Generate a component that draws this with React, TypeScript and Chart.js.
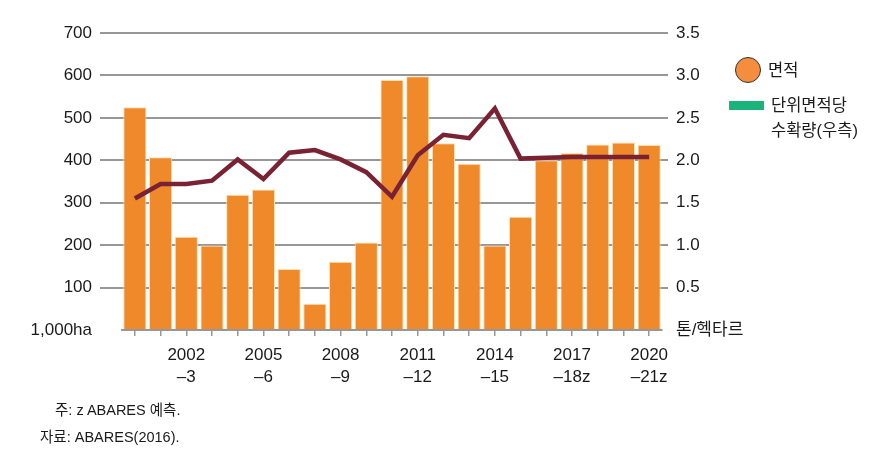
import React, { useEffect, useRef } from "react";
import { Chart, registerables } from "chart.js";

Chart.register(...registerables);

const categories = [
  "2000–01", "2001–02", "2002–03", "2003–04", "2004–05", "2005–06", "2006–07",
  "2007–08", "2008–09", "2009–10", "2010–11", "2011–12", "2012–13", "2013–14",
  "2014–15", "2015–16", "2016–17", "2017–18z", "2018–19z", "2019–20z", "2020–21z",
];
const areaValues = [525, 407, 220, 199, 319, 331, 144, 62, 161, 206, 589, 598, 440, 392, 199, 267, 400, 417, 437, 442, 436];
const yieldValues = [1.55, 1.72, 1.72, 1.76, 2.01, 1.78, 2.09, 2.12, 2.01, 1.86, 1.57, 2.06, 2.3, 2.26, 2.61, 2.02, 2.03, 2.04, 2.04, 2.04, 2.04];
const xTickIndex = [2, 5, 8, 11, 14, 17, 20];
const xTickTop = ["2002", "2005", "2008", "2011", "2014", "2017", "2020"];
const xTickBottom = ["–3", "–6", "–9", "–12", "–15", "–18z", "–21z"];
const leftUnit = "1,000ha";
const rightUnit = "톤/헥타르";
const legendArea = "면적";
const legendYield1 = "단위면적당";
const legendYield2 = "수확량(우측)";
const note1 = "주: z ABARES 예측.";
const note2 = "자료: ABARES(2016).";

const FONT = "'Liberation Sans', 'Noto Sans CJK KR', sans-serif";
const GRID = "#979797";

export default function App() {
  const ref = useRef<HTMLCanvasElement>(null);

  useEffect(() => {
    if (!ref.current) return;
    const chart = new Chart(ref.current, {
      data: {
        labels: categories,
        datasets: [
          {
            type: "line",
            label: "yield",
            data: yieldValues,
            yAxisID: "y1",
            borderColor: "#7a2133",
            borderWidth: 4.5,
            pointRadius: 0,
            tension: 0,
            order: 0,
          },
          {
            type: "bar",
            label: "area",
            data: areaValues,
            yAxisID: "y",
            backgroundColor: "#f0892a",
            borderColor: "#fde0b0",
            borderWidth: 1,
            categoryPercentage: 1,
            barPercentage: 0.9,
            order: 1,
          },
        ],
      },
      options: {
        responsive: false,
        animation: false,
        layout: { padding: { top: 33, left: 0, right: 112, bottom: 0 } },
        plugins: { legend: { display: false }, tooltip: { enabled: false } },
        scales: {
          x: {
            type: "category",
            afterFit: (s: any) => { s.height = 139; },
            grid: {
              display: true,
              drawOnChartArea: false,
              offset: false,
              tickLength: 6,
              color: GRID,
              lineWidth: 1.5,
            },
            border: { display: true, color: GRID, width: 2 },
            ticks: {
              autoSkip: false,
              maxRotation: 0,
              minRotation: 0,
              padding: 8,
              color: "#1a1a1a",
              font: { family: FONT, size: 17, lineHeight: 1.3 },
              callback: (_v: any, i: number) => {
                const k = xTickIndex.indexOf(i);
                return k >= 0 ? [xTickTop[k], xTickBottom[k]] : "";
              },
            },
          },
          y: {
            position: "left",
            min: 0,
            max: 700,
            afterFit: (s: any) => { s.width = 122; },
            border: { display: false },
            grid: {
              color: (c: any) => (c.tick && c.tick.value === 0 ? "rgba(0,0,0,0)" : GRID),
              lineWidth: 2,
              tickLength: 22,
            },
            ticks: {
              stepSize: 100,
              padding: 8,
              color: "#1a1a1a",
              font: { family: FONT, size: 17 },
              callback: (v: any) => (v === 0 ? leftUnit : String(v)),
            },
          },
          y1: {
            position: "right",
            min: 0,
            max: 3.5,
            afterFit: (s: any) => { s.width = 100; },
            border: { display: false },
            grid: {
              drawOnChartArea: false,
              color: (c: any) => (c.tick && c.tick.value === 0 ? "rgba(0,0,0,0)" : GRID),
              lineWidth: 2,
              tickLength: 6,
            },
            ticks: {
              stepSize: 0.5,
              padding: 8,
              color: "#1a1a1a",
              font: { family: FONT, size: 17 },
              callback: (v: any) => (v === 0 ? rightUnit : Number(v).toFixed(1)),
            },
          },
        },
      },
    } as any);
    return () => chart.destroy();
  }, []);

  const txt: React.CSSProperties = {
    position: "absolute",
    fontFamily: FONT,
    color: "#1a1a1a",
    whiteSpace: "nowrap",
    lineHeight: "20px",
  };

  return (
    <div style={{ position: "fixed", left: 0, top: 0, width: 874, height: 469, background: "#fff" }}>
      <canvas ref={ref} width={874} height={469} style={{ position: "absolute", left: 0, top: 0, width: 874, height: 469 }} />
      <div style={{ position: "absolute", left: 735, top: 57, width: 24, height: 24, borderRadius: "50%", background: "#f58d3e", border: "1.5px solid #333" }} />
      <div style={{ ...txt, left: 768, top: 60, fontSize: 16.5 }}>{legendArea}</div>
      <div style={{ position: "absolute", left: 729, top: 101, width: 35, height: 9, background: "#19b47c" }} />
      <div style={{ ...txt, left: 771, top: 95, fontSize: 16.5 }}>{legendYield1}</div>
      <div style={{ ...txt, left: 771, top: 120, fontSize: 16.5 }}>{legendYield2}</div>
      <div style={{ ...txt, left: 55, top: 400, fontSize: 14.5 }}>{note1}</div>
      <div style={{ ...txt, left: 40, top: 427, fontSize: 14.5 }}>{note2}</div>
    </div>
  );
}
